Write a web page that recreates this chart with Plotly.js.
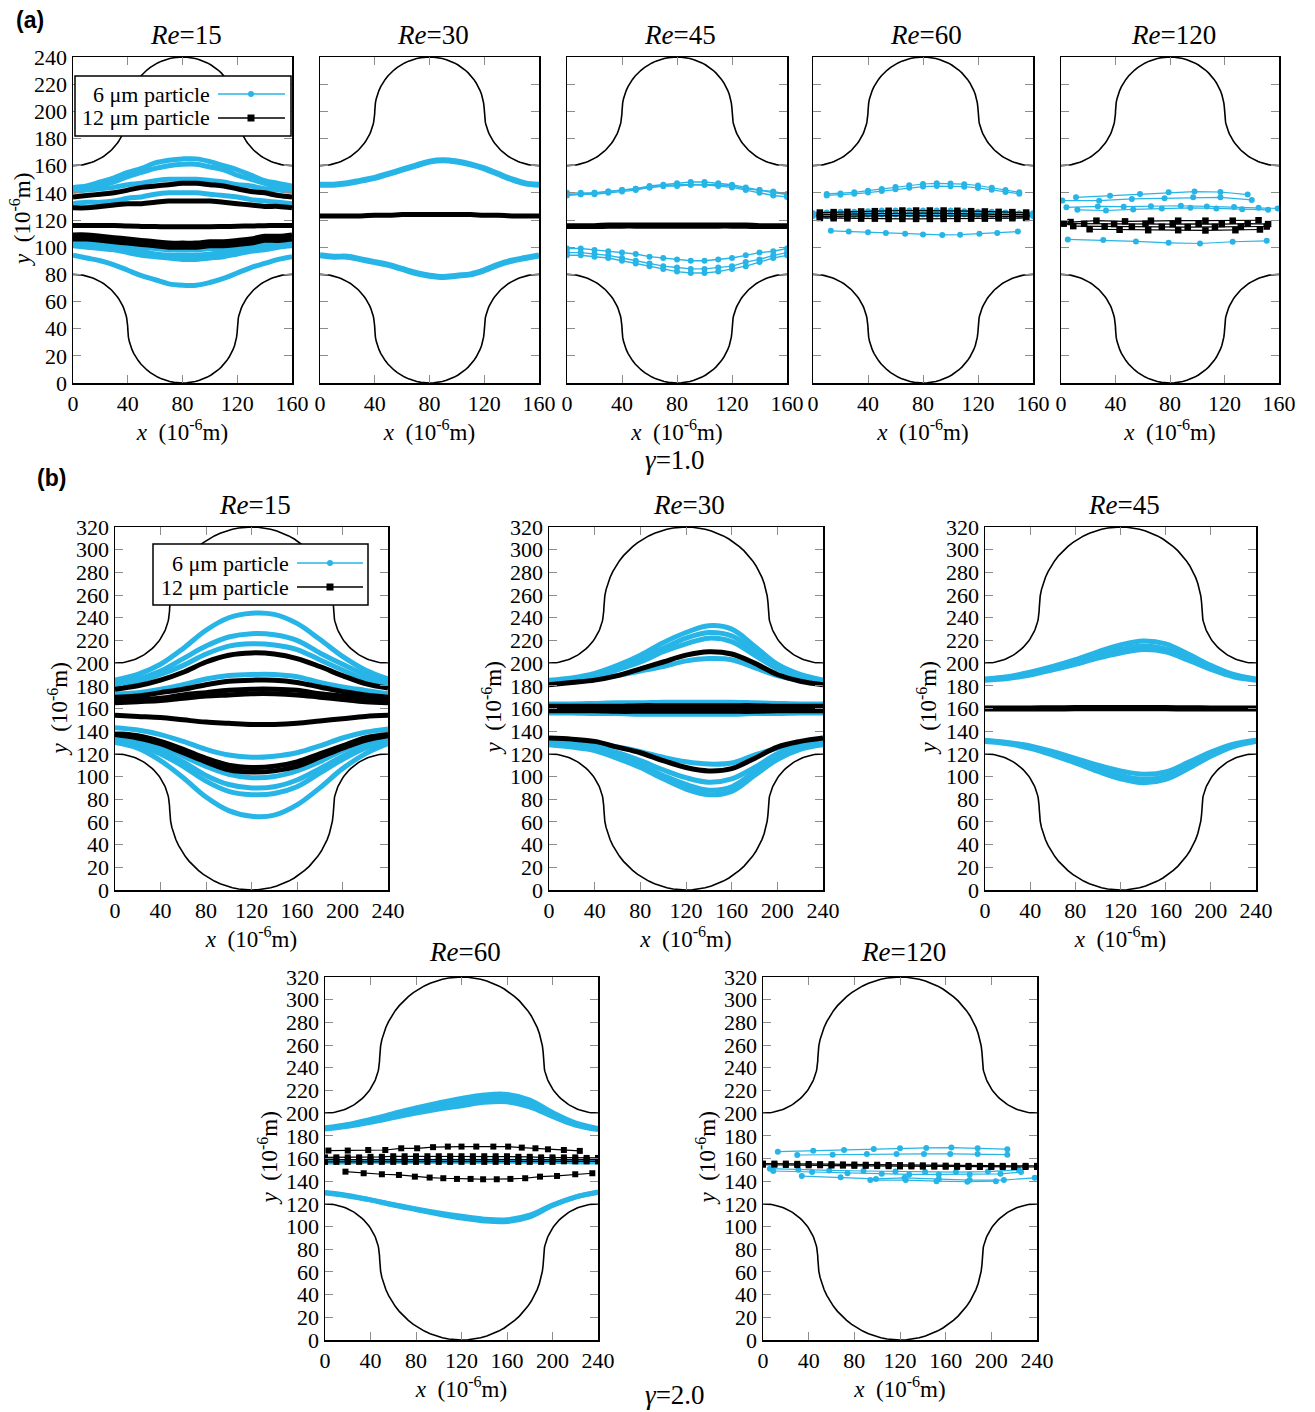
<!DOCTYPE html>
<html><head><meta charset="utf-8">
<script src="https://cdn.plot.ly/plotly-3.0.1.min.js"></script>
<style>html,body{margin:0;padding:0;background:#fff}#chart{width:1315px;height:1412px}</style>
</head><body><div id="chart"></div>
<script>
// ---------------- DATA (10^-6 m) ----------------
const xA = [0,10,20,30,40,50,60,70,80,90,100,110,120,130,140,150,160];
const xB = [0,20,40,60,80,100,120,140,160,180,200,220,240];
const xB10 = [0,10,20,30,40,50,60,70,80,90,100,110,120,130,140,150,160,170,180,190,200,210,220,230,240];

// (a) gamma = 1.0, Re = 15   (x = xA)
const a15_cyan = [
 [144,145,148,151,155,158,162,164,165,165,163,160,157,153,149,147,145],
 [142,143,145,148,152,155,158,160,161,161,159,157,153,150,147,144,143],
 [141,142,143,144,146,147,149,150,150,150,149,148,146,145,143,142,141],
 [132,133,133,134,136,137,139,140,140,140,139,138,137,135,134,133,132],
 [104,104,103,102,101,100,99,98,98,98,99,99,100,101,103,103,104],
 [102,102,101,100,98,97,95,94,94,94,95,96,97,99,100,101,102],
 [101,100,99,98,96,94,93,92,91,91,92,93,95,97,98,100,101],
 [94,92,90,87,83,79,76,73,72,72,74,77,81,85,88,91,93]
];
const a15_black = [
 [137,138,139,140,142,144,145,146,147,147,146,145,143,141,140,138,137],
 [129,129,130,131,132,132,133,134,134,134,134,133,132,131,130,130,129],
 [116,116,116,116,115.5,115.3,115.2,115,115,115,115,115.2,115.4,115.6,115.8,116,116],
 [109,109,108,107,106,105,104,103,103,103,104,104,105,106,108,108,109],
 [106,106,105,104,103,102,101,100,100,100,101,101,102,103,105,105,106]
];
// Re = 30 (x = xA)
const a30_cyan = [
 [146,146,147,149,151,154,157,160,163,164,163,161,158,154,150,147,146],
 [94,93,93,91,89,87,84,81,79,78,79,80,83,87,90,92,94]
];
const a30_black = [
 [123,123,123,123,123.5,123.5,124,124,124,124,124,124,123.5,123.5,123,123,123]
];
// Re = 45 (x = xA)
const a45_cyan = [
 [139,139,140,141,142,143,145,146,147,148,148,147,146,144,142,141,139],
 [138,139,139,140,141,142,144,145,146,146,146,146,145,143,142,140,139],
 [140,140,140,141,142,143,144,145,145,146,146,145,144,142,140,138,137],
 [99,99,98,97,96,95,93,92,91,90,90,91,92,94,96,97,99],
 [96,96,95,94,92,90,88,86,85,84,84,85,86,89,91,94,96],
 [94,94,93,92,90,88,86,84,82,81,81,82,84,86,89,92,94]
];
const a45_black = [
 [116,116,116,116.5,116.5,116.5,116.5,116.5,116.5,116.5,116.5,116.5,116.5,116.5,116,116,116],
 [115,115,115,115.2,115.3,115.3,115.3,115.3,115.3,115.3,115.3,115.3,115.3,115.2,115,115,115]
];
// Re = 60
const a60_cyan_x = [
 [10,20,30,40,50,60,70,80,90,100,110,120,130,140,150],
 [10,20,30,40,50,60,70,80,90,100,110,120,130,140,150],
 [0,10,20,30,40,50,60,70,80,90,100,110,120,130,140,150,160],
 [0,10,20,30,40,50,60,70,80,90,100,110,120,130,140,150,160],
 [13,26,40,53,67,80,94,107,121,134,149]
];
const a60_cyan_y = [
 [139.2,139.6,140.4,141.6,142.8,144.3,145.6,146.5,147,146.9,146.4,145.4,143.8,142,140.4],
 [138.1,138.6,139.3,140.2,141.4,142.6,143.7,144.6,145,144.9,144.5,143.6,142.2,140.7,139.3],
 [125,125.5,126,126,126.5,127,127,127,127,127,127,126.5,126,126,125.5,125,125],
 [123,123,123.5,123.5,124,124,124,124,124,124,124,124,123.5,123.5,123,123,123],
 [112,111.5,111,110.5,109.8,109.3,109,109.2,109.8,110.5,111.5]
];
const a60_black_x = [5,15,25,35,45,55,65,75,85,95,105,115,125,135,145,155];
const a60_black_y = [
 [125.5,125.8,126,126.3,126.5,126.8,127,127,127,127,126.8,126.5,126.3,126,125.8,125.5],
 [124,124,124.3,124.5,124.8,125,125,125,125,125,124.8,124.5,124.3,124,124,124],
 [122.5,122.5,122.8,123,123,123.2,123.2,123.2,123.2,123.2,123,123,122.8,122.5,122.5,122.5],
 [121.5,121.3,121.2,121,121,120.8,120.8,120.8,120.8,120.8,120.8,121,121,121.2,121.3,121.5]
];
// Re = 120
const a120_cyan_x = [
 [11,36,58,79,98,117,137],
 [1,28,52,76,97,117,140],
 [4,27,46,66,88,107,127,145,159],
 [12,33,53,74,95,114,133,152],
 [5,31,55,79,102,126,151]
];
const a120_cyan_y = [
 [136.7,137.9,139.2,140.4,140.9,140.6,138.7],
 [134.3,134.2,135.5,136,136.7,136.7,134.8],
 [129.3,130,129.8,130.2,130.5,130,129.5,129,128.5],
 [127.5,127,127.8,128.5,129,128.5,128,127.5],
 [105.7,105.2,104.2,103.2,102.7,104,104.7]
];
const a120_black_x = [
 [7,26,47,66,86,106,126,145],
 [2,17,39,62,82,101,118,137,152],
 [9,32,52,74,93,113,132,151],
 [21,43,64,86,106,128,146]
];
const a120_black_y = [
 [118.5,119.5,119,119.5,119.5,119.5,119.5,119.8],
 [117.3,117.2,117,117.2,117,117.2,117,117.4,117],
 [115.5,115.2,115,115,114.8,115,115,115.2],
 [113.2,112.8,112.5,112.5,112.3,112.5,113]
];

// (b) gamma = 2.0, Re = 15 (x = xB)
const b15_cyan = [
 [185,190,199,213,229,240,244,243,235,221,206,194,186],
 [183,186,193,204,215,223,226,225,220,209,199,190,184],
 [181,184,190,198,208,215,217,216,212,203,194,186,182],
 [173,174,177,181,186,189,190,190,188,183,179,176,173],
 [143,141,137,131,124,119,117,118,121,127,134,139,142],
 [136,133,127,118,109,102,99,100,105,113,123,131,135],
 [134,130,123,113,101,93,90,91,97,107,118,127,133],
 [132,128,120,109,96,87,84,85,91,103,115,125,131],
 [130,125,114,99,82,70,65,66,75,90,107,120,129]
];
const b15_black = [
 [177,180,185,192,201,207,209,208,204,197,189,182,178],
 [170,171,174,177,181,184,185,185,183,179,175,172,170],
 [167,168,169,172,174,176,177,177,176,173,171,169,167],
 [165,166,167,169,171,172,173,173,172,170,168,166,165],
 [154,153,152,150,148,147,146,146,147,149,151,153,154],
 [138,136,131,124,116,110,108,109,113,120,127,134,137],
 [137,134,129,121,113,106,104,105,109,117,125,132,136]
];
// Re = 30 (x = xB)
const b30_cyan = [
 [185,187,191,198,207,218,227,233,230,215,199,190,185],
 [184,186,189,196,204,213,222,227,224,211,197,188,184],
 [184,185,188,194,201,210,217,222,219,207,195,187,183],
 [183,184,186,189,193,197,202,204,203,196,189,185,183],
 [164,164,164.5,165,165,165.5,165.5,165.5,165.5,165,164.5,164,164],
 [156,156,155.5,155.5,155,155,155,155,155,155.5,155.5,156,156],
 [131,130,129,126,122,117,113,111,112,119,125,129,131],
 [130,129,126,121,114,106,99,95,98,108,120,127,130],
 [129,127,124,118,110,101,93,88,91,104,117,125,129],
 [128,126,123,116,108,98,89,84,87,101,115,124,128]
];
const b30_black = [
 [181,183,185,189,195,201,207,210,208,200,190,184,181],
 [162,162,162,162,162.5,162.5,162.5,162.5,162.5,162.5,162,162,162],
 [160,160,160,160,160,160,160,160,160,160,160,160,160],
 [158,158,158,157.5,157.5,157.5,157.5,157.5,157.5,157.5,158,158,158],
 [134,133,131,126,121,114,108,105,107,116,126,131,134]
];
// Re = 45 (x = xB)
const b45_cyan = [
 [186,188,192,197,203,210,216,219.5,217,208,198,190,186],
 [185.5,187,190.5,195,201,207,212,215,212.5,205,196,189,185.5],
 [185,186.5,189.5,194,199,204.5,209,212,210,202.5,194.5,188,185],
 [132,130,127,122,116,110,105,102,104,112.5,121.5,128.5,132],
 [131.5,129.5,125.5,120,114,107,101,97.5,100,109.5,119.5,127.5,131.5],
 [131,129,125,119,112,104.5,98,94.5,97.5,107,118,126.5,131]
];
const b45_black = [
 [160.5,160.5,160.5,160.7,160.8,160.8,160.8,160.8,160.8,160.7,160.5,160.5,160.5],
 [159.5,159.5,159.5,159.6,159.7,159.7,159.7,159.7,159.7,159.6,159.5,159.5,159.5]
];
// Re = 60
const b60_cyan = [ // x = xB
 [187,190,194.5,199.5,204.5,209,213,216,216.5,211.5,200.5,191.5,186.5],
 [186.5,189,193,198,202,206,209.5,212.5,213,208.5,198.5,190.5,186],
 [186,188.5,192,196,200,203.5,206.5,209.5,210,205.5,197,189.5,185.5],
 [157,157,157.5,157.5,157.5,157.5,157.5,157.5,157.5,157.5,157.5,157,157],
 [130,127.5,123.5,119,115,111,107.5,105,104.5,108.5,118.5,126,130.5],
 [129.5,127,123.5,119.5,115.5,112,109,106.5,106,110,119,126,130]
];
const b60_black_x = [
 [3,20,38,53,67,81,95,108,120,133,148,161,173,185,196,210,224],
 [18,34,50,65,79,92,104,116,128,139,151,163,176,189,204,220,235],
 xB10, xB10, xB10
];
const b60_black_y = [
 [167,167,167.5,167.5,169,169,170,170.5,170.5,170.5,170.5,170.5,169.6,169,168.1,167.5,166.7],
 [148.4,147,146.1,145.5,144,143.2,142.6,142,142,141.7,141.7,142,142.6,144,144.6,146.1,147],
 [161,161,161,161,161.5,161.5,162,162,162,162,162,162,162,162,162,162,162,161.5,161.5,161,161,161,161,160.5,160.5],
 [159,159,159,159,159,159.5,159.5,159.5,159.5,159.5,159.5,159.5,159.5,159.5,159.5,159.5,159.5,159.5,159,159,159,159,159,159,159],
 [157,157,157,157,157,157,157,157,157,157,157,157,157,157,157,157,157,157,157,157,157,157.5,157.5,157.5,157.5]
];
// Re = 120
const b120_cyan_x = [
 [13,44,71,97,120,143,165,188,214],
 [30,61,91,117,141,164,188,214],
 [6,31,58,88,116,142,169,197,224],
 [9,43,74,104,128,154,181,208,226],
 [34,68,99,124,154,181,211,238],
 [94,125,152,179,204]
];
const b120_cyan_y = [
 [166,166.9,167.5,168.4,169,169.3,169.6,169,168.2],
 [163.1,163.4,164,164,164,164,164,163.4],
 [151,150,149.5,149,148.5,148,148,148.5,150],
 [149,148,147,146.5,146,146,146,146.5,148],
 [144.5,143.5,142,143,142,141,141,143],
 [141,141,140,139.5,140]
];
const b120_black = [ // x = xB10
 [155.5,155.5,155.5,155.3,155.2,155,155,154.8,154.7,154.5,154.5,154.3,154.2,154,154,153.8,153.7,153.5,153.5,153.5,153.5,153.5,153.5,153.5,153.5],
 [154.5,154.5,154.3,154.2,154,154,153.8,153.7,153.5,153.5,153.3,153.2,153,153,152.8,152.8,152.7,152.6,152.5,152.5,152.5,152.5,152.5,152.5,152.5]
];

// channel geometry (length, straight-wall heights, chamber radius)
const chanA = [160, 160, 80, 40];
const chanB = [240, 200, 120, 72];

// ---------------- DRAWING ----------------
const W = 1315, H = 1412;
const CYAN = '#27b4e6', BLACK = '#000000';
const SERIF = '"Liberation Serif", "Times New Roman", serif';

// panel pixel boxes [left,right,top,bottom]; ytx = x of the y-axis title (px)
const panels = [
 {box:[73,292,57,383],  ch:chanA, yr:240, re:'15', ylab:true, ytx:21},
 {box:[320,539,57,383], ch:chanA, yr:240, re:'30', ylab:false},
 {box:[567,787,57,383], ch:chanA, yr:240, re:'45', ylab:false},
 {box:[813,1033,57,383],ch:chanA, yr:240, re:'60', ylab:false},
 {box:[1061,1279,57,383],ch:chanA, yr:240, re:'120', ylab:false},
 {box:[115,388,527,890], ch:chanB, yr:320, re:'15', ylab:true, ytx:58},
 {box:[549,823,527,890], ch:chanB, yr:320, re:'30', ylab:true, ytx:492},
 {box:[985,1256,527,890],ch:chanB, yr:320, re:'45', ylab:true, ytx:927},
 {box:[325,598,977,1340],ch:chanB, yr:320, re:'60', ylab:true, ytx:268},
 {box:[763,1037,977,1340],ch:chanB, yr:320, re:'120', ylab:true, ytx:706}
];

const traces = [];
function axn(i){ return i===1 ? '' : String(i); }

function arc(cx, cy, r, a0, a1, xs, ys){
  const n = 40;
  for (let i=0;i<=n;i++){
    const t = (a0 + (a1-a0)*i/n) * Math.PI/180;
    xs.push(cx + r*Math.cos(t)); ys.push(cy + r*Math.sin(t));
  }
}
function addWalls(i, ch){
  const [L, yT, yB, R] = ch;
  const r = L/2 - R;
  let xs=[], ys=[];
  arc(0, yT+r, r, -90, 0, xs, ys);
  arc(L/2, yT+r, R, 180, 0, xs, ys);
  arc(L, yT+r, r, 180, 270, xs, ys);
  traces.push({x:xs, y:ys, xaxis:'x'+axn(i), yaxis:'y'+axn(i), mode:'lines',
    line:{color:'#000', width:1.6}, hoverinfo:'skip', showlegend:false});
  xs=[]; ys=[];
  arc(0, yB-r, r, 90, 0, xs, ys);
  arc(L/2, yB-r, R, 180, 360, xs, ys);
  arc(L, yB-r, r, 180, 90, xs, ys);
  traces.push({x:xs, y:ys, xaxis:'x'+axn(i), yaxis:'y'+axn(i), mode:'lines',
    line:{color:'#000', width:1.6}, hoverinfo:'skip', showlegend:false});
}
function band(i, xs, ys, color, w){
  traces.push({x:xs, y:ys, xaxis:'x'+axn(i), yaxis:'y'+axn(i), mode:'lines',
    line:{color:color, width:w, shape:'spline', smoothing:1}, showlegend:false});
}
function dots(i, xs, ys, color, sym, size, lw){
  traces.push({x:xs, y:ys, xaxis:'x'+axn(i), yaxis:'y'+axn(i), mode:'lines+markers',
    line:{color:color, width:lw},
    marker:{color:color, symbol:sym, size:size, line:{width:0}}, showlegend:false});
}

panels.forEach((p,k)=> addWalls(k+1, p.ch));

// panel 1: a Re15
a15_cyan.forEach(y=>band(1, xA, y, CYAN, 5));
a15_black.forEach(y=>band(1, xA, y, BLACK, 5));
// panel 2: a Re30
a30_cyan.forEach(y=>band(2, xA, y, CYAN, 6));
a30_black.forEach(y=>band(2, xA, y, BLACK, 5));
// panel 3: a Re45
a45_cyan.forEach(y=>dots(3, xA, y, CYAN, 'circle', 6, 1.4));
a45_black.forEach(y=>band(3, xA, y, BLACK, 4.5));
// panel 4: a Re60
a60_cyan_y.forEach((y,j)=>dots(4, a60_cyan_x[j], y, CYAN, 'circle', 6, 1.2));
a60_black_y.forEach(y=>dots(4, a60_black_x, y, BLACK, 'square', 6.5, 1.2));
// panel 5: a Re120
a120_cyan_y.forEach((y,j)=>dots(5, a120_cyan_x[j], y, CYAN, 'circle', 6, 1.2));
a120_black_y.forEach((y,j)=>dots(5, a120_black_x[j], y, BLACK, 'square', 6.5, 1.2));
// panel 6: b Re15
b15_cyan.forEach(y=>band(6, xB, y, CYAN, 5));
b15_black.forEach(y=>band(6, xB, y, BLACK, 5));
// panel 7: b Re30
b30_cyan.forEach(y=>band(7, xB, y, CYAN, 5));
b30_black.forEach(y=>band(7, xB, y, BLACK, 5));
// panel 8: b Re45
b45_cyan.forEach(y=>band(8, xB, y, CYAN, 5));
b45_black.forEach(y=>band(8, xB, y, BLACK, 5));
// panel 9: b Re60
b60_cyan.forEach(y=>band(9, xB, y, CYAN, 5));
b60_black_y.forEach((y,j)=>dots(9, b60_black_x[j], y, BLACK, 'square', 6, 1.2));
// panel 10: b Re120
b120_cyan_y.forEach((y,j)=>dots(10, b120_cyan_x[j], y, CYAN, 'circle', 6, 1.2));
b120_black.forEach(y=>dots(10, xB10, y, BLACK, 'square', 6, 1.2));

// ---------------- LAYOUT ----------------
const px = v => v / W, py = v => 1 - v / H;
const layout = {
  width: W, height: H, margin:{l:0,r:0,t:0,b:0},
  paper_bgcolor:'#fff', plot_bgcolor:'rgba(0,0,0,0)',
  showlegend:false, annotations:[], shapes:[],
  font:{family:SERIF, color:'#000'}
};
const xtitle = '<i>x</i>\u00a0\u00a0(10<sup>-6</sup>m)';
const ytitle = '<i>y</i>\u00a0\u00a0(10<sup>-6</sup>m)';
panels.forEach((p,k)=>{
  const i = k+1, [l,r,t,b] = p.box, L = p.ch[0];
  const common = {
    ticks:'inside', ticklen:8, tickwidth:1, tickcolor:'#8c8c8c',
    showline:true, linecolor:'#000', linewidth:1.5, mirror:'ticks',
    showgrid:false, zeroline:false, fixedrange:true,
    tickfont:{family:SERIF, size:22, color:'#000'}
  };
  const xt = []; for (let v=0; v<=L; v+=40) xt.push(v);
  layout['xaxis'+axn(i)] = Object.assign({}, common, {
    domain:[px(l), px(r)], anchor:'y'+axn(i), range:[0, L],
    tickvals:xt, ticktext:xt.map(String),
    title:{text:xtitle, font:{family:SERIF, size:23, color:'#000'}, standoff:4}
  });
  layout['yaxis'+axn(i)] = Object.assign({}, common, {
    domain:[py(b), py(t)], anchor:'x'+axn(i), range:[0, p.yr], dtick:20, tick0:0,
    showticklabels:p.ylab
  });
  if (p.ylab) layout.annotations.push({xref:'paper', yref:'paper', x:px(p.ytx), y:py((t+b)/2),
    text:ytitle, textangle:-90, showarrow:false, xanchor:'center', yanchor:'middle',
    font:{family:SERIF, size:23, color:'#000'}});
  const ty = (t===57) ? 35 : (t===527 ? 505 : 952);
  layout.annotations.push({xref:'paper', yref:'paper', x:px((l+r)/2+3), y:py(ty),
    text:'<i>Re</i>='+p.re, showarrow:false, xanchor:'center', yanchor:'middle',
    font:{family:SERIF, size:27, color:'#000'}});
});
// panel labels and gamma captions
layout.annotations.push({xref:'paper', yref:'paper', x:px(30), y:py(20), text:'<b>(a)</b>',
  showarrow:false, xanchor:'center', yanchor:'middle', font:{family:'"Liberation Sans", Arial, sans-serif', size:23, color:'#000'}});
layout.annotations.push({xref:'paper', yref:'paper', x:px(52), y:py(478), text:'<b>(b)</b>',
  showarrow:false, xanchor:'center', yanchor:'middle', font:{family:'"Liberation Sans", Arial, sans-serif', size:23, color:'#000'}});
layout.annotations.push({xref:'paper', yref:'paper', x:px(675), y:py(460), text:'<i>γ</i>=1.0',
  showarrow:false, xanchor:'center', yanchor:'middle', font:{family:SERIF, size:27, color:'#000'}});
layout.annotations.push({xref:'paper', yref:'paper', x:px(675), y:py(1395), text:'<i>γ</i>=2.0',
  showarrow:false, xanchor:'center', yanchor:'middle', font:{family:SERIF, size:27, color:'#000'}});

// custom legends (text followed by line sample, as in the figure)
function legend(x0, x1, y0, y1, textRight, lineX0, lineX1, markX, rowY){
  layout.shapes.push({type:'rect', xref:'paper', yref:'paper', x0:px(x0), x1:px(x1), y0:py(y1), y1:py(y0),
    line:{color:'#000', width:1.5}, fillcolor:'#fff', layer:'above'});
  const labels = ['6 μm particle', '12 μm particle'];
  const cols = [CYAN, BLACK];
  labels.forEach((txt, j)=>{
    layout.annotations.push({xref:'paper', yref:'paper', x:px(textRight), y:py(rowY[j]), text:txt,
      showarrow:false, xanchor:'right', yanchor:'middle', font:{family:SERIF, size:22, color:'#000'}});
    layout.shapes.push({type:'line', xref:'paper', yref:'paper', x0:px(lineX0), x1:px(lineX1),
      y0:py(rowY[j]), y1:py(rowY[j]), line:{color:cols[j], width:1.3}, layer:'above'});
    if (j===0) layout.shapes.push({type:'circle', xref:'paper', yref:'paper',
      x0:px(markX-3), x1:px(markX+3), y0:py(rowY[j]+3), y1:py(rowY[j]-3),
      line:{width:0}, fillcolor:CYAN, layer:'above'});
    else layout.shapes.push({type:'rect', xref:'paper', yref:'paper',
      x0:px(markX-3.5), x1:px(markX+3.5), y0:py(rowY[j]+3.5), y1:py(rowY[j]-3.5),
      line:{width:0}, fillcolor:BLACK, layer:'above'});
  });
}
legend(75, 291, 76, 136, 212, 218, 285, 251, [94, 118]);
legend(153, 368, 544, 605, 291, 297, 363, 330, [563, 587]);

Plotly.newPlot('chart', traces, layout, {staticPlot:true, displayModeBar:false});
</script></body></html>
